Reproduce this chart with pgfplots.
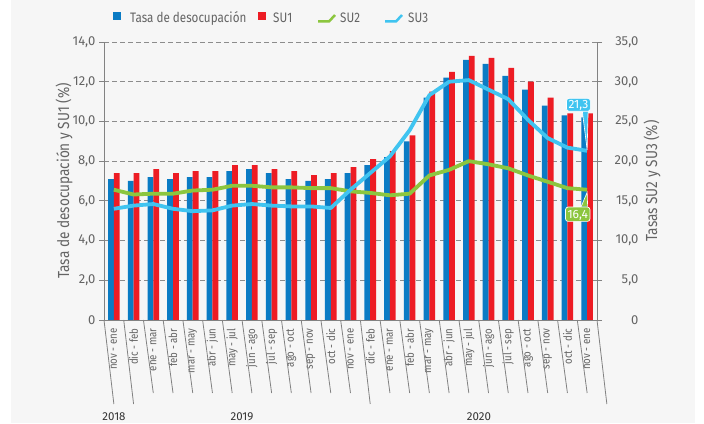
\documentclass[border=0pt]{standalone}
\usepackage{fontspec}
\setmainfont{Fira Sans}[FakeStretch=0.85]
\newfontfamily\numfont{Fira Sans}
\usepackage{pgfplots}
\pgfplotsset{compat=1.18}

\definecolor{bg}{RGB}{246,246,246}
\definecolor{barblue}{RGB}{10,123,196}
\definecolor{barred}{RGB}{237,28,36}
\definecolor{sutwo}{RGB}{140,198,63}
\definecolor{suthree}{RGB}{64,196,240}
\definecolor{axisgray}{RGB}{130,130,130}
\definecolor{gridgray}{RGB}{140,140,140}
\definecolor{labelgray}{RGB}{100,100,100}

% shared geometry of both axes
\pgfplotsset{
  frame/.style={
    at={(104pt,103pt)}, anchor=south west,
    scale only axis, width=493pt, height=278pt,
    xmin=-0.5, xmax=24.5,
    tick align=outside, major tick length=5pt,
    axis line style={draw=axisgray, line width=0.8pt},
    ytick style={draw=axisgray, line width=0.8pt},
    tick label style={text=labelgray},
    label style={text=labelgray, font=\fontsize{16}{16}\selectfont},
    clip=false,
  }
}

\begin{document}
\begin{tikzpicture}
\useasboundingbox (0,0) rectangle (704pt,423pt);
\fill[white] (0,0) rectangle (704pt,423pt);
\fill[bg] (11pt,0) rectangle (695pt,423pt);

\begin{axis}[
  frame,
  ymin=0, ymax=14,
  ybar=0pt, bar width=5.8pt,
  axis x line*=bottom, axis y line*=left,
  xtick={0,...,24},
  xticklabels={nov - ene, dic - feb, ene - mar, feb - abr, mar - may, abr - jun,
    may - jul, jun - ago, jul - sep, ago - oct, sep - nov, oct - dic, nov - ene,
    dic - feb, ene - mar, feb - abr, mar - may, abr - jun, may - jul, jun - ago,
    jul - sep, ago - oct, sep - nov, oct - dic, nov - ene},
  xtick style={draw=none},
  x tick label style={rotate=90, anchor=east, font=\fontsize{11.4}{11.4}\selectfont},
  ytick={0,2,...,14},
  yticklabels={0,{2,0},{4,0},{6,0},{8,0},{10,0},{12,0},{14,0}},
  y tick label style={font=\numfont\fontsize{13}{13}\selectfont},
  ymajorgrids,
  grid style={draw=gridgray, line width=0.8pt, dash pattern=on 4.5pt off 3.5pt},
  ylabel={Tasa de desocupación y SU1 (\%)},
  ylabel style={at={(axis description cs:-0.081,0.5)}, anchor=center},
]
% Tasa de desocupación
\addplot[fill=barblue, draw=none] coordinates {
  (0,7.1) (1,7.0) (2,7.2) (3,7.1) (4,7.2) (5,7.2) (6,7.5) (7,7.6) (8,7.4)
  (9,7.1) (10,7.0) (11,7.1) (12,7.4) (13,7.8) (14,8.2) (15,9.0) (16,11.2)
  (17,12.2) (18,13.1) (19,12.9) (20,12.3) (21,11.6) (22,10.8) (23,10.3) (24,10.2)};
% SU1
\addplot[fill=barred, draw=none] coordinates {
  (0,7.4) (1,7.4) (2,7.6) (3,7.4) (4,7.5) (5,7.5) (6,7.8) (7,7.8) (8,7.6)
  (9,7.5) (10,7.3) (11,7.4) (12,7.7) (13,8.1) (14,8.5) (15,9.3) (16,11.5)
  (17,12.5) (18,13.3) (19,13.2) (20,12.7) (21,12.0) (22,11.2) (23,10.4) (24,10.4)};

% category separators under the axis
\pgfplotsinvokeforeach{1.5,2.5,...,11.5,13.5,14.5,...,23.5}{
  \draw[axisgray, line width=0.8pt] (axis cs:#1,0) -- ++(0,-73pt);}
\pgfplotsinvokeforeach{-0.5,0.5,12.5,24.5}{
  \draw[axisgray, line width=0.8pt] (axis cs:#1,0) -- ++(0,-84pt);}
\end{axis}

\begin{axis}[
  frame,
  ymin=0, ymax=35,
  axis x line=none, axis y line*=right,
  ytick={0,5,...,35},
  yticklabels={0,{5,0},{10,0},{15,0},{20,0},{25,0},{30,0},{35,0}},
  y tick label style={font=\numfont\fontsize{13}{13}\selectfont, anchor=east, xshift=40pt},
  ylabel={Tasas SU2 y SU3 (\%)},
  ylabel style={at={(axis description cs:1.1116,0.5)}, anchor=center},
]
% SU2
\addplot[sutwo, line width=3.8pt, line join=round, line cap=butt] coordinates {
  (0,16.4) (1,15.8) (2,15.9) (3,15.9) (4,16.3) (5,16.4) (6,16.9) (7,16.9) (8,16.7)
  (9,16.7) (10,16.6) (11,16.6) (12,16.2) (13,16.0) (14,15.7) (15,15.9) (16,18.2)
  (17,18.9) (18,20.0) (19,19.6) (20,19.1) (21,18.2) (22,17.4) (23,16.6) (24,16.4)};
% SU3
\addplot[suthree, line width=3.8pt, line join=round, line cap=butt] coordinates {
  (0,14.0) (1,14.4) (2,14.6) (3,14.0) (4,13.7) (5,13.8) (6,14.4) (7,14.6) (8,14.4)
  (9,14.3) (10,14.3) (11,14.1) (12,16.4) (13,18.5) (14,20.6) (15,23.9) (16,28.3)
  (17,30.0) (18,30.2) (19,29.0) (20,27.8) (21,25.2) (22,22.9) (23,21.7) (24,21.3)};

% callouts for the last values
\draw[fill=suthree, draw=white, line width=0.6pt]
  ([shift={(-5pt,41pt)}]axis cs:24,21.3) -- ([shift={(0pt,1pt)}]axis cs:24,21.3)
  -- ([shift={(1pt,41pt)}]axis cs:24,21.3);
\node[fill=suthree, draw=white, line width=0.7pt, rounded corners=2.5pt, text=white,
  font=\numfont\fontsize{12}{12}\selectfont, inner xsep=2pt, inner ysep=1.8pt,
  text height=8.5pt, text depth=0.8pt]
  at ([shift={(-8.7pt,46pt)}]axis cs:24,21.3) {21,3};
\draw[fill=sutwo, draw=white, line width=0.6pt]
  ([shift={(-6pt,-17pt)}]axis cs:24,16.4) -- ([shift={(0pt,-2.5pt)}]axis cs:24,16.4)
  -- ([shift={(0.5pt,-17pt)}]axis cs:24,16.4);
\node[fill=sutwo, draw=white, line width=0.7pt, rounded corners=2.5pt, text=white,
  font=\numfont\fontsize{12}{12}\selectfont, inner xsep=2pt, inner ysep=2.5pt,
  text height=8.5pt, text depth=0.8pt]
  at ([shift={(-9.4pt,-24.5pt)}]axis cs:24,16.4) {16,4};
\end{axis}

% year labels
\begin{scope}[every node/.style={anchor=base, text=black!80, font=\numfont\fontsize{11.5}{11.5}\selectfont}]
\node at (114pt,3pt) {2018};
\node at (242pt,3pt) {2019};
\node at (479pt,3pt) {2020};
\end{scope}

% legend
\begin{scope}[every node/.style={anchor=base west, inner sep=0pt, text=labelgray, font=\fontsize{13.7}{13.7}\selectfont}]
\fill[barblue] (113pt,403pt) rectangle (121pt,411pt);
\node at (130pt,400.5pt) {Tasa de desocupación};
\fill[barred] (258pt,403pt) rectangle (266pt,411pt);
\node at (273pt,400.5pt) {SU1};
\draw[sutwo, line width=2.5pt, line join=round] (318pt,401.5pt) -- (329pt,401.5pt) -- (335pt,408pt);
\node at (340pt,400.5pt) {SU2};
\draw[suthree, line width=2.5pt, line join=round] (385pt,401.5pt) -- (396pt,401.5pt) -- (402pt,408pt);
\node at (408pt,400.5pt) {SU3};
\end{scope}
\end{tikzpicture}
\end{document}
